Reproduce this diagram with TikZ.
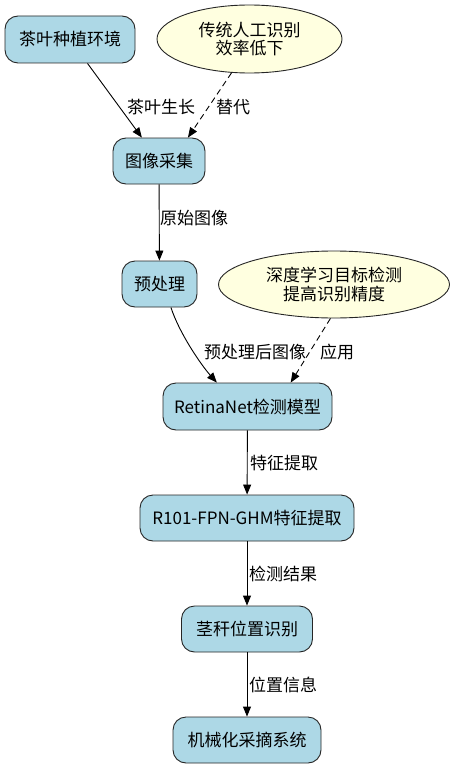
\documentclass[tikz,border=0pt]{standalone}
\usepackage{fontspec}
\setmainfont{Noto Sans CJK SC}
\usetikzlibrary{arrows.meta,shapes.geometric}
\definecolor{boxblue}{HTML}{ADD8E6}
\definecolor{noteyellow}{HTML}{FFFFE0}
\begin{document}
\begin{tikzpicture}[x=1pt,y=1pt,
  every node/.style={font=\fontsize{17}{18.5}\selectfont, inner sep=0pt},
  box/.style={draw=black!85, line width=0.9pt, fill=boxblue, rounded corners=13pt, minimum height=46pt},
  note/.style={draw=black!85, line width=0.9pt, fill=noteyellow, ellipse, align=center},
  lbl/.style={},
  conn/.style={line width=0.9pt, -{Triangle[length=10pt,width=8pt]}},
  dconn/.style={conn, dash pattern=on 6pt off 4pt}]
\useasboundingbox (0,0) rectangle (459,-768);
\node[box, minimum width=130pt, minimum height=47pt] (tea) at (70,-39.5) {茶叶种植环境};
\node[note, minimum width=185pt, minimum height=68pt] (e1) at (249.5,-39) {传统人工识别\\效率低下};
\node[box, minimum width=92pt] (col) at (159,-161) {图像采集};
\node[box, minimum width=75pt] (pre) at (159.5,-284) {预处理};
\node[note, minimum width=231pt, minimum height=67pt] (e2) at (334,-284.5) {深度学习目标检测\\提高识别精度};
\node[box, minimum width=169pt, minimum height=47pt] (ret) at (247.5,-406.5) {RetinaNet检测模型};
\node[box, minimum width=214pt] (r101) at (247,-518) {R101-FPN-GHM特征提取};
\node[box, minimum width=131pt] (stem) at (247,-629) {茎秆位置识别};
\node[box, minimum width=148pt] (mech) at (247,-740) {机械化采摘系统};

\draw[conn] (tea) -- (col);
\draw[dconn] (e1.-118) -- (col.39);
\draw[conn] (col) -- (pre);
\draw[conn] (pre.-64) .. controls +(-72:28) and +(132:22) .. (ret.142);
\draw[dconn] (e2.-96) -- (ret.29);
\draw[conn] (ret) -- (r101);
\draw[conn] (r101) -- (stem);
\draw[conn] (stem) -- (mech);

\node[lbl] (l1) at (161,-107) {茶叶生长};
\node[lbl] (l2) at (233,-107) {替代};
\node[lbl] (l3) at (194,-218) {原始图像};
\node[lbl] (l4) at (255,-352) {预处理后图像};
\node[lbl] (l5) at (337,-352) {应用};
\node[lbl] (l6) at (284,-463) {特征提取};
\node[lbl] (l7) at (283,-574) {检测结果};
\node[lbl] (l8) at (283,-685) {位置信息};
\end{tikzpicture}
\end{document}
